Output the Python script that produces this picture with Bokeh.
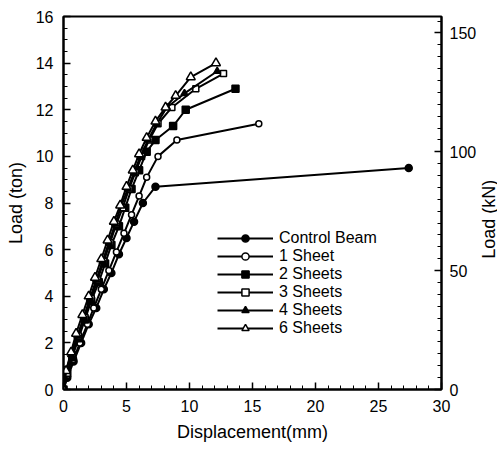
import math
from bokeh.plotting import figure
from bokeh.layouts import row
from bokeh.models import Range1d, LinearAxis, Legend, LegendItem, SingleIntervalTicker
from bokeh.core.properties import value
from bokeh.embed import file_html
from bokeh.resources import INLINE

# Data (Displacement mm, Load ton)
ctrl_x = [0, 0.3, 0.8, 1.4, 2.0, 2.6, 3.2, 3.8, 4.4, 5.0, 5.6, 6.3, 7.3, 27.4]
ctrl_y = [0, 0.5, 1.2, 2.0, 2.8, 3.5, 4.3, 5.0, 5.8, 6.5, 7.2, 8.0, 8.7, 9.5]
s1_x = [0, 0.3, 0.8, 1.3, 1.9, 2.4, 3.0, 3.6, 4.2, 4.8, 5.4, 6.0, 6.6, 7.5, 9.0, 15.5]
s1_y = [0, 0.6, 1.3, 2.0, 2.8, 3.5, 4.3, 5.1, 5.9, 6.7, 7.5, 8.3, 9.1, 10.0, 10.7, 11.4]
s2_x = [0, 0.3, 0.7, 1.2, 1.7, 2.2, 2.8, 3.3, 3.8, 4.4, 4.9, 5.4, 6.0, 6.6, 7.3, 8.7, 9.7, 13.65]
s2_y = [0, 0.7, 1.4, 2.2, 3.0, 3.8, 4.6, 5.4, 6.2, 7.0, 7.8, 8.6, 9.4, 10.2, 10.7, 11.3, 12.0, 12.9]
s3_x = [0, 0.3, 0.7, 1.2, 1.7, 2.2, 2.7, 3.2, 3.7, 4.2, 4.7, 5.2, 5.7, 6.2, 6.8, 7.5, 8.6, 10.5, 12.7]
s3_y = [0, 0.7, 1.5, 2.3, 3.1, 3.9, 4.7, 5.5, 6.3, 7.1, 7.8, 8.6, 9.3, 10.0, 10.7, 11.4, 12.1, 12.9, 13.55]
s4_x = [0, 0.2, 0.6, 1.1, 1.6, 2.1, 2.6, 3.1, 3.6, 4.1, 4.6, 5.1, 5.6, 6.1, 6.7, 7.4, 8.2, 9.6, 12.2]
s4_y = [0, 0.8, 1.5, 2.3, 3.1, 3.9, 4.7, 5.5, 6.3, 7.1, 7.9, 8.6, 9.3, 10.0, 10.7, 11.4, 12.1, 12.7, 13.65]
s6_x = [0, 0.2, 0.6, 1.0, 1.5, 2.0, 2.5, 3.0, 3.5, 4.0, 4.5, 5.0, 5.5, 6.0, 6.6, 7.3, 8.1, 8.9, 10.1, 12.1]
s6_y = [0, 0.8, 1.6, 2.4, 3.2, 4.0, 4.8, 5.6, 6.4, 7.2, 7.9, 8.7, 9.4, 10.1, 10.8, 11.5, 12.1, 12.6, 13.4, 14.0]

labels = ["Control Beam", "1 Sheet", "2 Sheets", "3 Sheets", "4 Sheets", "6 Sheets"]
right_title = "Load (kN)"
TON_TO_KN = 9.80665

FONT = "Liberation Sans"

p = figure(frame_width=378, frame_height=373, output_backend="svg", toolbar_location=None,
           x_range=Range1d(0, 30), y_range=Range1d(0, 16),
           min_border_left=63, min_border_right=36, min_border_top=16, min_border_bottom=60)
p.grid.visible = False
p.outline_line_color = "black"
p.outline_line_width = 2
p.background_fill_color = "white"
p.border_fill_color = "white"

p.extra_y_ranges = {"kn": Range1d(0, 16 * TON_TO_KN)}
right = LinearAxis(y_range_name="kn",
                   ticker=SingleIntervalTicker(interval=50, num_minor_ticks=10))
p.add_layout(right, "right")

p.xaxis.ticker = SingleIntervalTicker(interval=5, num_minor_ticks=5)
p.yaxis[0].ticker = SingleIntervalTicker(interval=2, num_minor_ticks=4)
p.xaxis.axis_label = "Displacement(mm)"
p.yaxis[0].axis_label = "Load (ton)"

for ax in p.xaxis + p.yaxis:
    ax.major_tick_in = 7
    ax.major_tick_out = 0
    ax.minor_tick_in = 4
    ax.minor_tick_out = 0
    ax.axis_line_width = 2
    ax.major_tick_line_width = 1.5
    ax.minor_tick_line_width = 1
    ax.major_label_text_font = FONT
    ax.major_label_text_font_size = "16px"
    ax.major_label_text_color = "black"
    ax.axis_label_text_font = FONT
    ax.axis_label_text_font_size = "18px"
    ax.axis_label_text_font_style = "normal"
    ax.axis_label_text_color = "black"
    ax.major_label_standoff = 10
    ax.axis_label_standoff = 7
right.major_label_standoff = 8

series = [
    (ctrl_x, ctrl_y, "circle", "black", 7),
    (s1_x, s1_y, "circle", "white", 6),
    (s2_x, s2_y, "square", "black", 7),
    (s3_x, s3_y, "square", "white", 6),
    (s4_x, s4_y, "triangle", "black", 7),
    (s6_x, s6_y, "triangle", "white", 9),
]

items = []
for (xs, ys, mk, fill, sz), lab in zip(series, labels):
    r1 = p.line(xs, ys, line_color="black", line_width=2)
    r2 = p.scatter(xs, ys, marker=mk, size=sz, fill_color=fill, line_color="black", line_width=1.5)
    items.append(LegendItem(label=lab, renderers=[r1, r2]))

legend = Legend(items=items, location=(154, 52), padding=0, margin=0, spacing=0,
                glyph_width=56, glyph_height=18, label_height=18,
                label_standoff=6, border_line_alpha=0, background_fill_alpha=0,
                label_text_font=FONT, label_text_font_size="16px",
                label_text_color="black")
p.add_layout(legend, "center")

# narrow strip holding the right-hand axis title (reads bottom-to-top)
p2 = figure(frame_width=20, frame_height=373, output_backend="svg", toolbar_location=None,
            x_range=Range1d(0, 20), y_range=Range1d(0, 16),
            min_border_left=0, min_border_right=0, min_border_top=16, min_border_bottom=60,
            x_axis_location=None, y_axis_location=None)
p2.grid.visible = False
p2.outline_line_color = None
p2.background_fill_color = "white"
p2.border_fill_color = "white"
p2.text(x=[9], y=[7.3], text=[right_title], angle=math.pi / 2,
        text_align="center", text_baseline="middle", text_font=value(FONT),
        text_font_size="18px", text_color="black")

layout = row(p, p2, spacing=0)
open("out.html", "w").write(file_html(layout, INLINE))
